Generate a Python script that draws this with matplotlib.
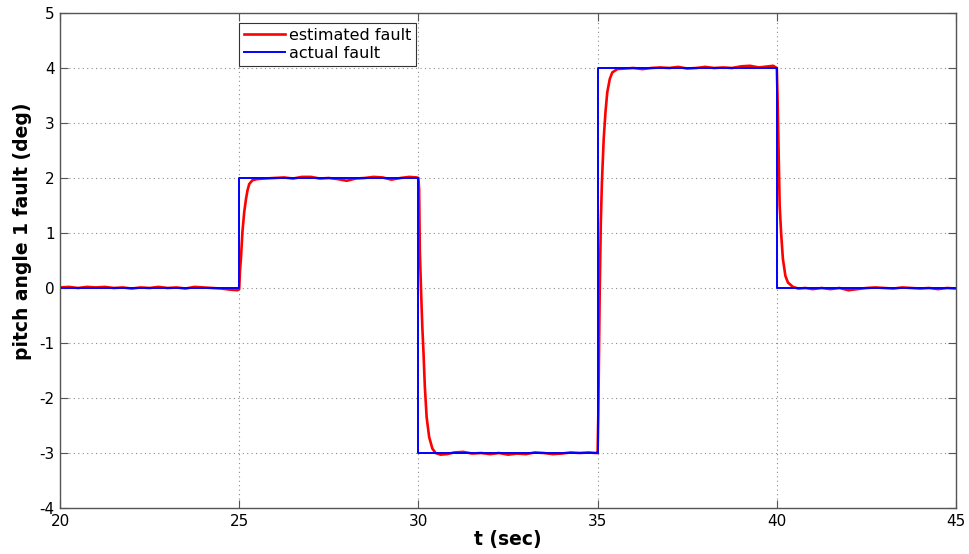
import matplotlib
matplotlib.use("Agg")
import matplotlib.pyplot as plt

plt.rcParams["font.family"] = ["DejaVu Sans"]
plt.rcParams["axes.unicode_minus"] = False

# actual fault (step changes)
t_actual = [20, 25, 30, 35, 40, 45]
f_actual = [0, 2, -3, 4, 0, 0]

# estimated fault
t_seg0 = [20.0, 20.25, 20.5, 20.75, 21.0, 21.25, 21.5, 21.75, 22.0, 22.25, 22.5,
          22.75, 23.0, 23.25, 23.5, 23.75, 24.0, 24.25, 24.5, 24.75, 24.95, 25.0]
f_seg0 = [0.01, 0.02, 0.0, 0.02, 0.01, 0.02, 0.0, 0.01, -0.01, 0.01, 0.0,
          0.02, 0.0, 0.01, -0.01, 0.02, 0.01, 0.0, -0.01, -0.03, -0.04, -0.02]

t_seg1 = [25.02, 25.05, 25.09, 25.14, 25.19, 25.23, 25.28, 25.37, 25.5, 25.7,
          26.0, 26.25, 26.5, 26.75, 27.0, 27.25, 27.5, 27.75, 28.0, 28.25,
          28.5, 28.75, 29.0, 29.25, 29.5, 29.75, 29.95, 30.0]
f_seg1 = [0.3, 0.55, 1.02, 1.38, 1.62, 1.77, 1.89, 1.96, 1.98, 1.99,
          2.0, 2.01, 1.99, 2.02, 2.02, 1.99, 2.0, 1.98, 1.95, 1.99,
          2.0, 2.02, 2.01, 1.97, 2.0, 2.02, 2.01, 2.0]

t_seg2 = [30.02, 30.04, 30.08, 30.11, 30.14, 30.18, 30.23, 30.3, 30.39, 30.48,
          30.62, 30.8, 31.0, 31.25, 31.5, 31.75, 32.0, 32.25, 32.5, 32.75,
          33.0, 33.25, 33.5, 33.75, 34.0, 34.25, 34.5, 34.75, 34.95, 35.0]
f_seg2 = [1.8, 0.67, -0.17, -0.72, -1.14, -1.8, -2.35, -2.71, -2.92, -3.0,
          -3.03, -3.02, -2.99, -2.98, -3.01, -3.0, -3.02, -3.0, -3.03, -3.01,
          -3.02, -2.99, -3.0, -3.02, -3.01, -2.99, -3.0, -2.99, -3.0, -3.0]

t_seg3 = [35.02, 35.04, 35.06, 35.09, 35.12, 35.17, 35.22, 35.27, 35.34, 35.41,
          35.55, 35.75, 36.0, 36.25, 36.5, 36.75, 37.0, 37.25, 37.5, 37.75,
          38.0, 38.25, 38.5, 38.75, 39.0, 39.25, 39.5, 39.75, 39.9, 40.0]
f_seg3 = [-2.3, -1.2, 0.0, 1.2, 1.92, 2.71, 3.2, 3.56, 3.8, 3.92,
          3.98, 3.99, 4.0, 3.98, 4.0, 4.01, 4.0, 4.02, 3.99, 4.0,
          4.02, 4.0, 4.01, 4.0, 4.03, 4.04, 4.01, 4.03, 4.04, 4.0]

t_seg4 = [40.02, 40.04, 40.06, 40.08, 40.12, 40.17, 40.24, 40.31, 40.45, 40.6,
          40.8, 41.0, 41.25, 41.5, 41.75, 42.0, 42.25, 42.5, 42.75, 43.0,
          43.25, 43.5, 43.75, 44.0, 44.25, 44.5, 44.75, 45.0]
f_seg4 = [3.5, 2.8, 2.2, 1.5, 1.0, 0.53, 0.22, 0.1, 0.02, -0.01,
          0.0, -0.02, 0.0, -0.02, 0.0, -0.04, -0.02, 0.0, 0.01, 0.0,
          -0.01, 0.01, 0.0, -0.01, 0.0, -0.02, 0.0, -0.01]

t_est = t_seg0 + t_seg1 + t_seg2 + t_seg3 + t_seg4
f_est = f_seg0 + f_seg1 + f_seg2 + f_seg3 + f_seg4

fig = plt.figure(figsize=(9.7, 5.54), dpi=100)
ax = fig.add_axes([60 / 970, 1 - 508 / 554, 896 / 970, 495 / 554])

ax.plot(t_est, f_est, color="#ff0000", linewidth=1.9, label="estimated fault")
ax.plot(t_actual, f_actual, color="#0000ff", linewidth=1.4,
        drawstyle="steps-post", label="actual fault")

ax.set_xlim(20, 45)
ax.set_ylim(-4, 5)
ax.set_xticks([20, 25, 30, 35, 40, 45])
ax.set_yticks([-4, -3, -2, -1, 0, 1, 2, 3, 4, 5])

ax.grid(True, color="#8c8c8c", linestyle=(0, (1, 3)), linewidth=0.8)
ax.tick_params(direction="in", top=True, right=True, length=6, width=0.8,
               color="#555555", labelsize=11, pad=4)
for s in ax.spines.values():
    s.set_color("#555555")
    s.set_linewidth(1.0)

ax.set_xlabel("t (sec)", fontsize=13.5, fontweight="bold")
ax.set_ylabel("pitch angle 1 fault (deg)", fontsize=13.5, fontweight="bold")
ax.xaxis.set_label_coords(0.5, -0.044)
ax.yaxis.set_label_coords(-0.031, 0.56)

leg = ax.legend(loc="upper left", bbox_to_anchor=(0.1998, 0.98),
                borderaxespad=0, fancybox=False, framealpha=1,
                edgecolor="#333333", fontsize=11.5, handlelength=2.6,
                handletextpad=0.2, borderpad=0.3, labelspacing=0.2)
leg.get_frame().set_linewidth(0.8)

fig.savefig("out.png", dpi=100)
